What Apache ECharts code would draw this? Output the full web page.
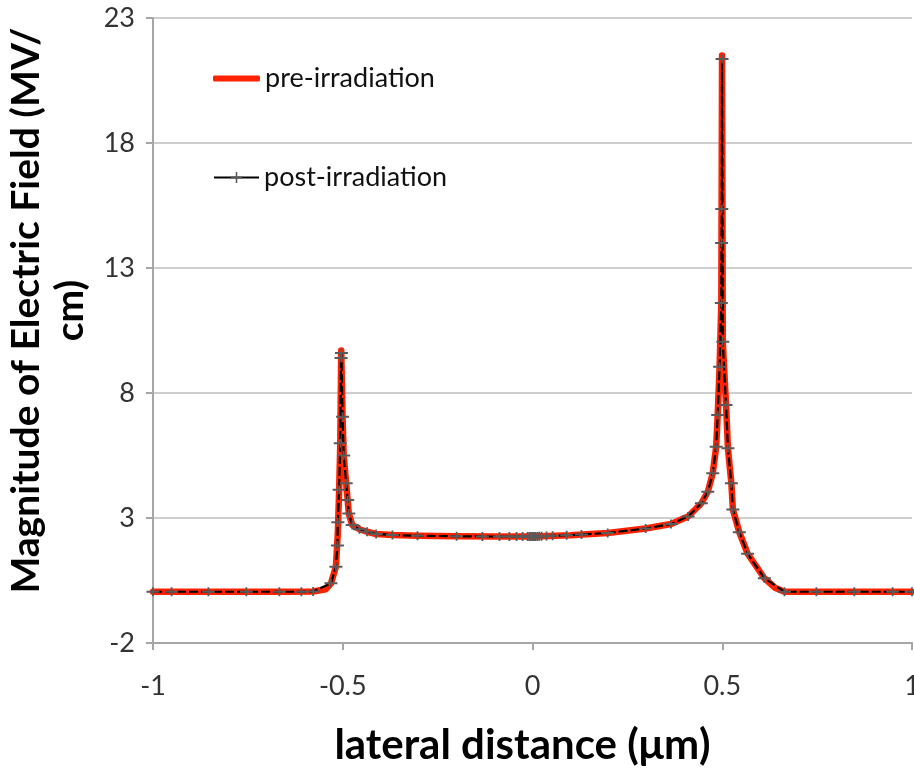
<!DOCTYPE html>
<html>
<head>
<meta charset="utf-8">
<script src="https://cdn.jsdelivr.net/npm/echarts@6/dist/echarts.min.js"></script>
<style>
html,body{margin:0;padding:0;background:#fff;}
#main{width:914px;height:770px;}
</style>
</head>
<body>
<div id="main"></div>
<script>
// ---- data ----
const xTicks = [-1, -0.5, 0, 0.5, 1];
const yTicks = [-2, 3, 8, 13, 18, 23];

const xPost = [-1.000,-0.951,-0.854,-0.754,-0.667,-0.609,-0.578,-0.531,-0.518,-0.514,-0.513,-0.5095,-0.5065,-0.5045,-0.5035,-0.5005,-0.4975,-0.491,-0.487,-0.484,-0.475,-0.456,-0.436,-0.412,-0.369,-0.303,-0.200,-0.132,-0.087,-0.061,-0.042,-0.026,-0.013,-0.008,-0.004,0.000,0.004,0.008,0.013,0.018,0.024,0.037,0.053,0.090,0.129,0.198,0.298,0.365,0.410,0.445,0.462,0.475,0.484,0.488,0.493,0.4975,0.4982,0.4988,0.4995,0.5014,0.510,0.515,0.524,0.528,0.545,0.567,0.611,0.664,0.748,0.848,0.949,1.000];
const yPost = [0.05,0.05,0.05,0.05,0.05,0.05,0.06,0.39,1.05,1.90,2.83,4.13,5.99,9.40,9.60,7.05,5.50,4.39,3.72,3.18,2.72,2.55,2.45,2.36,2.32,2.29,2.27,2.26,2.26,2.26,2.26,2.26,2.26,2.26,2.26,2.26,2.26,2.26,2.26,2.27,2.27,2.28,2.29,2.31,2.34,2.40,2.58,2.76,3.06,3.59,4.05,4.79,5.85,7.12,9.05,11.6,14.0,15.36,21.36,10.05,7.52,5.79,4.39,3.34,2.43,1.57,0.59,0.05,0.05,0.05,0.05,0.05];

const xPre = [-1.000,-0.800,-0.650,-0.578,-0.545,-0.531,-0.518,-0.513,-0.5095,-0.5065,-0.5040,-0.5005,-0.4975,-0.491,-0.484,-0.475,-0.456,-0.436,-0.412,-0.369,-0.303,-0.200,-0.100,0.000,0.100,0.198,0.298,0.365,0.410,0.445,0.462,0.475,0.484,0.488,0.493,0.4975,0.4995,0.5014,0.510,0.515,0.524,0.528,0.545,0.567,0.611,0.640,0.664,0.800,1.000];
const yPre = [0.05,0.05,0.05,0.06,0.15,0.39,1.05,2.40,4.13,5.99,9.70,7.05,5.50,4.39,3.18,2.72,2.55,2.45,2.36,2.32,2.29,2.27,2.26,2.26,2.31,2.40,2.58,2.76,3.06,3.59,4.05,4.79,5.85,7.12,9.05,11.6,21.50,10.05,7.52,5.79,4.39,3.34,2.43,1.57,0.59,0.20,0.05,0.05,0.05];

const seriesNames = ['pre-irradiation', 'post-irradiation'];

const pairs = (xs, ys) => xs.map((x, i) => [x, ys[i]]);
const plusPath = 'path://M0,3.6h13v1.8h-13z M5.6,0h1.8v9h-1.8z';
const FONT = 'Lato';
const RED = '#ff2200';

const chart = echarts.init(document.getElementById('main'), null, {renderer: 'canvas'});
chart.setOption({
  animation: false,
  backgroundColor: '#ffffff',
  textStyle: {fontFamily: FONT},
  grid: {left: 153, right: 2, top: 18, bottom: 127, containLabel: false, outerBoundsMode: 'none'},
  legend: [
    {data: [{name: seriesNames[0], icon: 'roundRect'}], left: 208, top: 60, itemWidth: 47, itemHeight: 6,
     textStyle: {fontFamily: FONT, fontSize: 27, color: '#111'}},
    {data: [seriesNames[1]], left: 208, top: 159, itemWidth: 45, itemHeight: 14,
     lineStyle: {type: 'solid', width: 2, color: '#000'},
     textStyle: {fontFamily: FONT, fontSize: 27, color: '#111'}}
  ],
  xAxis: {
    type: 'value', min: -1, max: 1, interval: 0.5,
    name: 'lateral distance (\u03bcm)', nameLocation: 'middle', nameGap: 81,
    nameTextStyle: {fontFamily: FONT, fontSize: 42, fontWeight: 'bold', color: '#000',
      padding: [0, 20, 0, 0]},
    axisLine: {show: true, onZero: false, lineStyle: {color: '#a6a6a6', width: 2}},
    axisTick: {show: true, length: 7, lineStyle: {color: '#a6a6a6', width: 2}},
    axisLabel: {fontFamily: FONT, fontSize: 27, color: '#333', margin: 30,
      formatter: v => xTicks.includes(v) ? String(v) : ''},
    splitLine: {show: false}
  },
  yAxis: {
    type: 'value', min: -2, max: 23, interval: 5,
    name: 'Magnitude of Electric Field (MV/\ncm)', nameLocation: 'middle', nameGap: 36, nameRotate: 90,
    nameTextStyle: {fontFamily: FONT, fontSize: 39, fontWeight: 'bold', color: '#000', lineHeight: 44,
      padding: [0, 0, 0, 40]},
    axisLine: {show: true, onZero: false, lineStyle: {color: '#a6a6a6', width: 2}},
    axisTick: {show: true, length: 7, lineStyle: {color: '#a6a6a6', width: 2}},
    axisLabel: {fontFamily: FONT, fontSize: 27, color: '#333', margin: 18,
      formatter: v => yTicks.includes(v) ? String(v) : ''},
    splitLine: {show: true, lineStyle: {color: '#cfcfcf', width: 2}}
  },
  series: [
    {
      name: seriesNames[0], type: 'line', data: pairs(xPre, yPre),
      showSymbol: false, symbol: 'none', smooth: false,
      lineStyle: {color: RED, width: 6.5, cap: 'round', join: 'round'},
      itemStyle: {color: RED}, z: 2
    },
    {
      name: seriesNames[1], type: 'line', data: pairs(xPost, yPost),
      symbol: plusPath, symbolSize: [13, 9], showSymbol: true,
      lineStyle: {color: '#000000', width: 2.2, type: [9, 3]},
      itemStyle: {color: '#5a5a5a'}, z: 3
    }
  ]
});
</script>
</body>
</html>
